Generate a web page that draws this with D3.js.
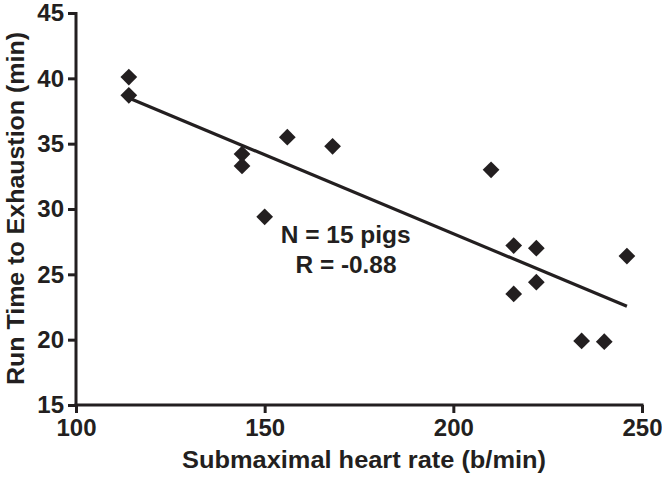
<!DOCTYPE html>
<html>
<head>
<meta charset="utf-8">
<script src="https://cdn.jsdelivr.net/npm/d3@7"></script>
<style>
  html, body { margin: 0; padding: 0; background: #fff; }
  svg { display: block; }
  text { font-family: "Liberation Sans", Arial, sans-serif; font-weight: bold; fill: #231f20; }
</style>
</head>
<body>
<svg id="chart" width="662" height="477"></svg>
<script>
// ---- data ----
const heartRate = [114, 114, 144, 144, 156, 150, 168, 210, 216, 222, 246, 222, 216, 234, 240];
const runTime   = [40.1, 38.7, 34.2, 33.3, 35.5, 29.4, 34.8, 33.0, 27.2, 27.0, 26.4, 24.4, 23.5, 19.9, 19.85];
const fitX = [114, 246];
const fitY = [38.5, 22.55];
const xTicks = [100, 150, 200, 250];
const yTicks = [15, 20, 25, 30, 35, 40, 45];
const xTitle = "Submaximal heart rate (b/min)";
const yTitle = "Run Time to Exhaustion (min)";
const annotation = ["N = 15 pigs", "R = -0.88"];

// ---- layout ----
const ink = "#231f20";
const svg = d3.select("#chart");
const x = d3.scaleLinear().domain([100, 250]).range([76, 642]);
const y = d3.scaleLinear().domain([15, 45]).range([405, 13]);

// axes
const xAxis = svg.append("g").attr("transform", `translate(0,${y(15)})`)
  .call(d3.axisBottom(x).tickValues(xTicks).tickFormat(d3.format("d")).tickSizeOuter(0).tickSize(8).tickPadding(6));
const yAxis = svg.append("g").attr("transform", `translate(${x(100)},0)`)
  .call(d3.axisLeft(y).tickValues(yTicks).tickFormat(d3.format("d")).tickSizeOuter(0).tickSize(8).tickPadding(4));

[xAxis, yAxis].forEach(g => {
  g.select(".domain").attr("stroke", ink).attr("stroke-width", 3);
  g.selectAll(".tick line").attr("stroke", ink).attr("stroke-width", 3);
  g.selectAll(".tick text").attr("fill", ink)
    .style("font-size", "24px").style("font-weight", "bold")
    .style("font-family", "'Liberation Sans', Arial, sans-serif");
});
xAxis.select(".domain").attr("d", `M${x(100) - 1.5},0H${x(250) + 1.5}`);
yAxis.select(".domain").attr("d", `M0,${y(45) - 1}V${y(15) + 1.5}`);

// axis titles
svg.append("text")
  .attr("x", 364)
  .attr("y", 468)
  .attr("text-anchor", "middle")
  .attr("textLength", 364).attr("lengthAdjust", "spacingAndGlyphs")
  .style("font-size", "23px")
  .text(xTitle);

svg.append("text")
  .attr("transform", `translate(24,208.5) rotate(-90)`)
  .attr("text-anchor", "middle")
  .attr("textLength", 353).attr("lengthAdjust", "spacingAndGlyphs")
  .style("font-size", "24px")
  .text(yTitle);

// regression line
svg.append("line")
  .attr("x1", x(fitX[0])).attr("y1", y(fitY[0]))
  .attr("x2", x(fitX[1])).attr("y2", y(fitY[1]))
  .attr("stroke", ink).attr("stroke-width", 3.2);

// points
const pts = heartRate.map((h, i) => ({ h, r: runTime[i] }));
svg.append("g").selectAll("path").data(pts).join("path")
  .attr("d", d3.symbol(d3.symbolSquare, 140))
  .attr("transform", d => `translate(${x(d.h)},${y(d.r)}) rotate(45)`)
  .attr("fill", ink);

// annotation
svg.append("text").attr("x", 345.7).attr("y", 243).attr("text-anchor", "middle")
  .attr("textLength", 130).attr("lengthAdjust", "spacingAndGlyphs")
  .style("font-size", "23px").text(annotation[0]);
svg.append("text").attr("x", 346).attr("y", 273).attr("text-anchor", "middle")
  .attr("textLength", 101).attr("lengthAdjust", "spacingAndGlyphs")
  .style("font-size", "23px").text(annotation[1]);
</script>
</body>
</html>
